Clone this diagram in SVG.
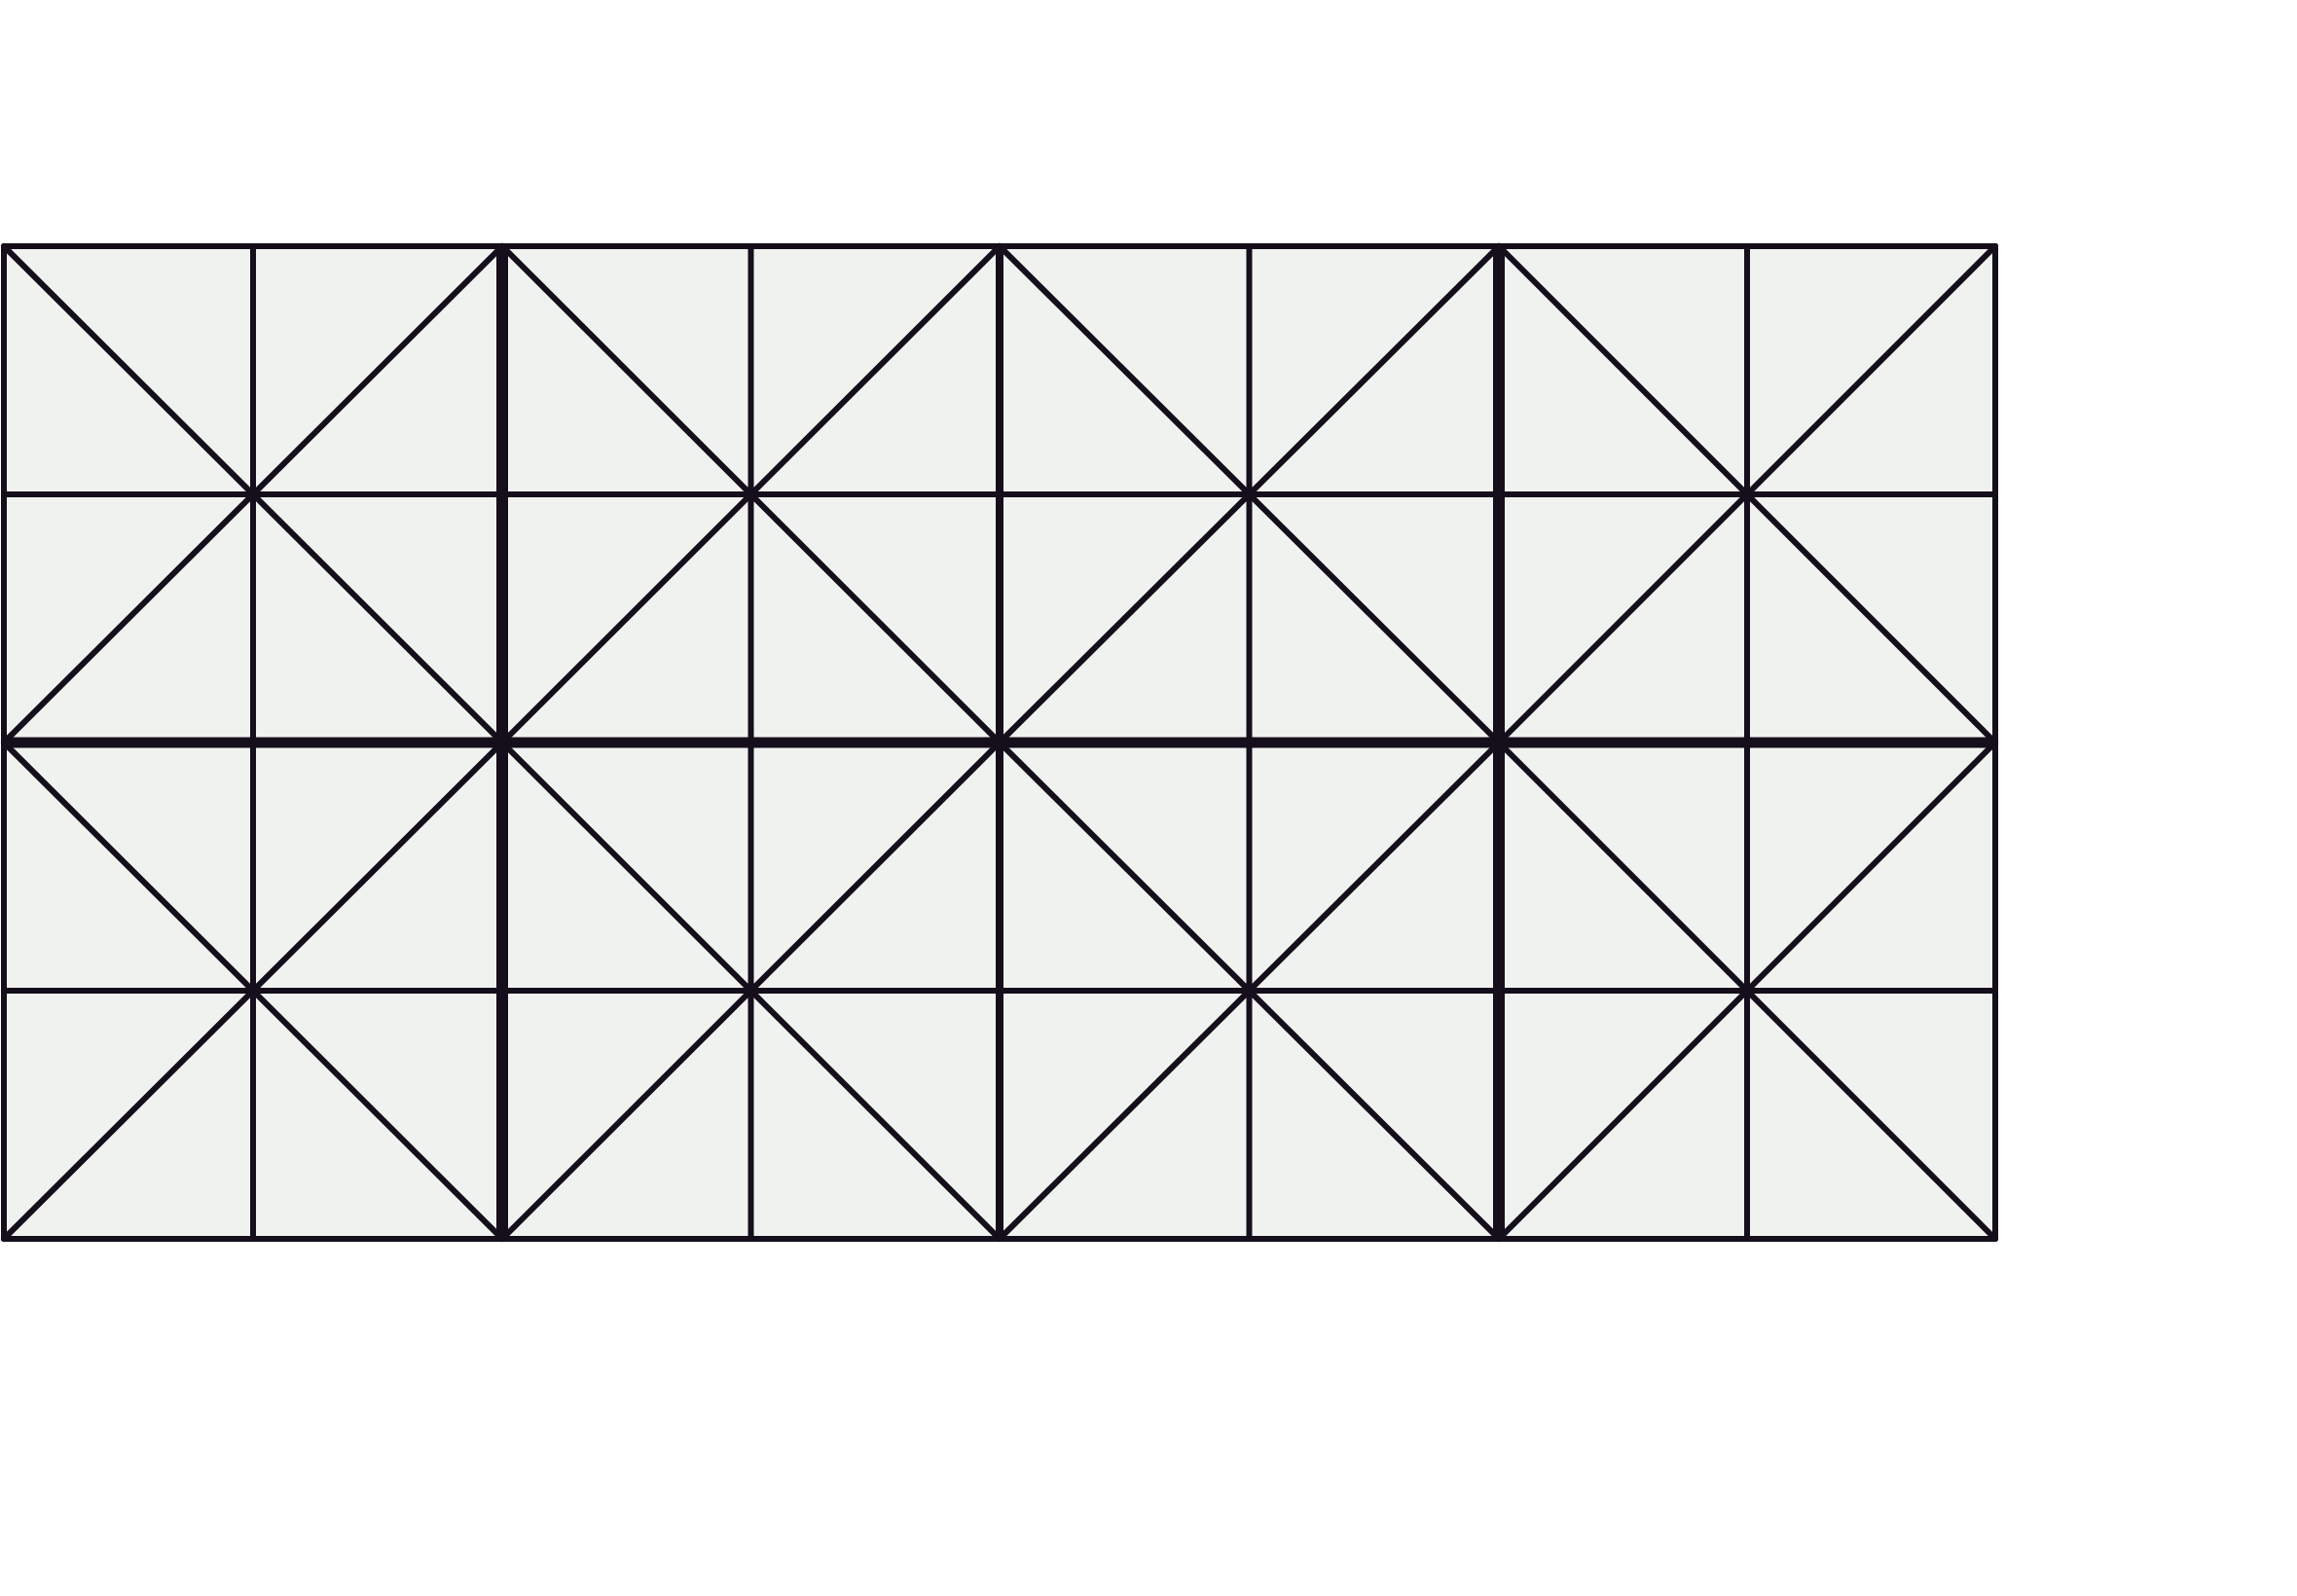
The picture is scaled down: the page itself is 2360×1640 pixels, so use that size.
<svg xmlns="http://www.w3.org/2000/svg" width="2360" height="1640" viewBox="0 0 2360 1640">
<style>
.tile rect{fill:#f0f2f0;stroke:#150f1c;stroke-width:6;stroke-linejoin:round}
.tile path{fill:none;stroke:#150f1c;stroke-width:6;stroke-linecap:round}
.seam{stroke:#150f1c;stroke-linecap:butt}
</style>
<rect width="2360" height="1640" fill="#ffffff"/>
<g id="tile-a1" class="tile"><rect x="4" y="253" width="512" height="510"/><path d="M260 253V763M4 508H516M4 253L516 763M516 253L4 763"/></g>
<g id="tile-b1" class="tile"><rect x="516" y="253" width="511" height="510"/><path d="M771.5 253V763M516 508H1027M516 253L1027 763M1027 253L516 763"/></g>
<g id="tile-c1" class="tile"><rect x="1027" y="253" width="513" height="510"/><path d="M1283.5 253V763M1027 508H1540M1027 253L1540 763M1540 253L1027 763"/></g>
<g id="tile-d1" class="tile"><rect x="1540" y="253" width="510" height="510"/><path d="M1795 253V763M1540 508H2050M1540 253L2050 763M2050 253L1540 763"/></g>
<g id="tile-a2" class="tile"><rect x="4" y="763" width="512" height="510"/><path d="M260 763V1273M4 1018H516M4 763L516 1273M516 763L4 1273"/></g>
<g id="tile-b2" class="tile"><rect x="516" y="763" width="511" height="510"/><path d="M771.5 763V1273M516 1018H1027M516 763L1027 1273M1027 763L516 1273"/></g>
<g id="tile-c2" class="tile"><rect x="1027" y="763" width="513" height="510"/><path d="M1283.5 763V1273M1027 1018H1540M1027 763L1540 1273M1540 763L1027 1273"/></g>
<g id="tile-d2" class="tile"><rect x="1540" y="763" width="510" height="510"/><path d="M1795 763V1273M1540 1018H2050M1540 763L2050 1273M2050 763L1540 1273"/></g>
<g id="seams">
<line class="seam" x1="516" y1="253" x2="516" y2="1273" stroke-width="12"/>
<line class="seam" x1="1027" y1="253" x2="1027" y2="1273" stroke-width="8"/>
<line class="seam" x1="1540" y1="253" x2="1540" y2="1273" stroke-width="12"/>
<line class="seam" x1="4" y1="763" x2="2050" y2="763" stroke-width="11"/>
</g>
</svg>
